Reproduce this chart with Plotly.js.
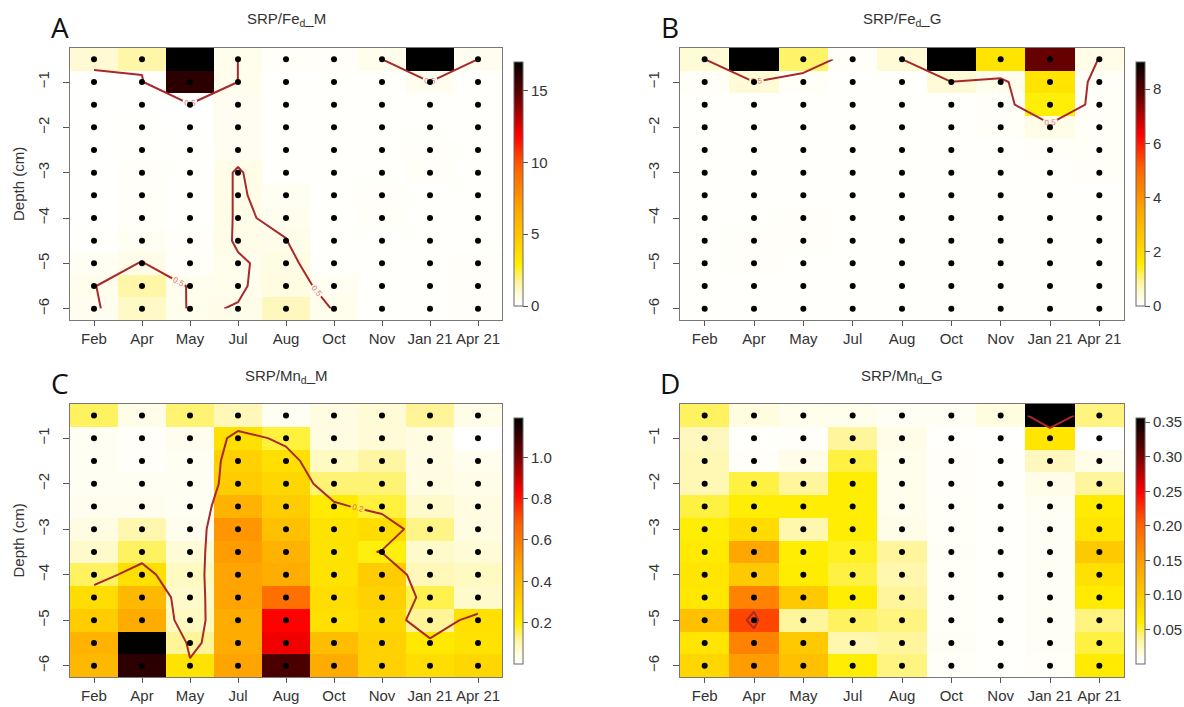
<!DOCTYPE html>
<html><head><meta charset="utf-8">
<script src="https://cdn.plot.ly/plotly-3.0.1.min.js"></script>
<style>body{margin:0;background:#fff}#chart{width:1184px;height:707px}</style>
</head><body><div id="chart"></div>
<script>
// ---- data ----
const months = ['Feb','Apr','May','Jul','Aug','Oct','Nov','Jan 21','Apr 21'];
const depths = [-0.5,-1,-1.5,-2,-2.5,-3,-3.5,-4,-4.5,-5,-5.5,-6];
const depthTicks = [-1,-2,-3,-4,-5,-6];

// rows = depths (top to bottom), columns = months
const srpFeM = [
  [0.9, 1.5, 17,  0.45, 0.2,  0.15, 0.45, 17,  0.4],
  [0.05,0.05,16,  0.45, 0.1,  0.1,  0.1,  0.4, 0.1],
  [0.05,0.05,0.05,0.35, 0.1,  0.1,  0.1,  0.1, 0.1],
  [0.05,0.1, 0.05,0.35, 0.1,  0.1,  0.1,  0.1, 0.1],
  [0.05,0.1, 0.1, 0.35, 0.1,  0.1,  0.1,  0.15,0.1],
  [0.05,0.15,0.1, 0.55, 0.1,  0.1,  0.1,  0.2, 0.1],
  [0.05,0.2, 0.1, 0.55, 0.3,  0.1,  0.15, 0.1, 0.1],
  [0.05,0.2, 0.1, 0.55, 0.42, 0.1,  0.2,  0.1, 0.1],
  [0.1, 0.3, 0.15,0.55, 0.51, 0.1,  0.1,  0.1, 0.1],
  [0.3, 0.52,0.2, 0.45, 0.65, 0.1,  0.1,  0.1, 0.15],
  [0.45,1.5, 0.41,0.45, 0.7,  0.34, 0.1,  0.1, 0.15],
  [0.4, 1.1, 0.45,0.52, 1.2,  0.45, 0.1,  0.1, 0.15]
];
const srpFeG = [
  [0.45,9,   1.1, 0.1, 0.45,9,   1.8, 7.8, 0.3],
  [0.1, 0.45,0.1, 0.05,0.05,0.45,0.25,1.8, 0.1],
  [0.05,0.05,0.05,0.05,0.05,0.05,0.1, 1.5, 0.1],
  [0.05,0.05,0.05,0.05,0.05,0.05,0.1, 0.3, 0.1],
  [0.05,0.05,0.05,0.05,0.05,0.05,0.05,0.1, 0.1],
  [0.05,0.05,0.05,0.05,0.05,0.05,0.05,0.05,0.1],
  [0.05,0.05,0.05,0.05,0.05,0.05,0.05,0.05,0.05],
  [0.05,0.05,0.08,0.05,0.05,0.05,0.05,0.05,0.05],
  [0.05,0.08,0.08,0.05,0.05,0.05,0.05,0.05,0.05],
  [0.05,0.08,0.05,0.05,0.05,0.05,0.05,0.05,0.05],
  [0.05,0.05,0.05,0.05,0.05,0.05,0.05,0.05,0.05],
  [0.05,0.05,0.05,0.05,0.05,0.05,0.05,0.05,0.05]
];
const srpMnM = [
  [0.15,0.04,0.14,0.09,0.02,0.05, 0.06, 0.12,0.04],
  [0.02,0.01,0.03,0.25,0.17,0.05, 0.06, 0.05,0.0],
  [0.02,0.01,0.02,0.3, 0.25,0.08, 0.11, 0.05,0.03],
  [0.02,0.02,0.02,0.32,0.28,0.14, 0.14, 0.05,0.04],
  [0.03,0.03,0.02,0.42,0.32,0.215,0.17, 0.07,0.05],
  [0.05,0.1, 0.03,0.52,0.37,0.24, 0.26, 0.13,0.05],
  [0.07,0.15,0.06,0.5, 0.42,0.24, 0.195,0.07,0.06],
  [0.15,0.25,0.08,0.48,0.44,0.24, 0.32, 0.09,0.08],
  [0.26,0.4, 0.07,0.48,0.63,0.26, 0.3,  0.16,0.07],
  [0.32,0.45,0.08,0.45,0.83,0.25, 0.28, 0.12,0.25],
  [0.42,1.19,0.12,0.45,0.85,0.38, 0.3,  0.22,0.24],
  [0.4, 1.12,0.24,0.48,1.07,0.45, 0.3,  0.26,0.28]
];
const srpMnG = [
  [0.045,0.015,0.01, 0.01, 0.005,0.005,0.015,0.356,0.04],
  [0.025,0.002,0.003,0.035,0.012,0.002,0.001,0.07, 0.0],
  [0.028,0.003,0.012,0.05, 0.01, 0.003,0.002,0.025,0.012],
  [0.028,0.05, 0.035,0.06, 0.01, 0.003,0.002,0.012,0.035],
  [0.05, 0.06, 0.06, 0.06, 0.01, 0.004,0.002,0.006,0.065],
  [0.06, 0.08, 0.03, 0.06, 0.012,0.004,0.002,0.005,0.07],
  [0.065,0.14, 0.06, 0.055,0.035,0.005,0.002,0.005,0.1],
  [0.07, 0.1,  0.062,0.05, 0.03, 0.004,0.002,0.005,0.075],
  [0.068,0.172,0.1,  0.06, 0.035,0.004,0.002,0.005,0.065],
  [0.11, 0.216,0.035,0.045,0.04, 0.004,0.002,0.005,0.04],
  [0.07, 0.172,0.1,  0.03, 0.035,0.005,0.002,0.005,0.05],
  [0.085,0.15, 0.11, 0.06, 0.04, 0.004,0.002,0.004,0.065]
];
const ticksFeM = [0,5,10,15];
const ticksFeG = [0,2,4,6,8];
const ticksMnM = [0.2,0.4,0.6,0.8,1.0];
const labelsMnM = ['0.2','0.4','0.6','0.8','1.0'];
const ticksMnG = [0.05,0.10,0.15,0.20,0.25,0.30,0.35];
const labelsMnG = ['0.05','0.10','0.15','0.20','0.25','0.30','0.35'];
const maxFeM = 17, maxFeG = 9, maxMnM = 1.19, maxMnG = 0.356;
const levelFe = 0.5, levelMn = 0.2;

// ---- styling / layout ----
const W = 1184, H = 707;
const heatScale = [
  [0,'#FFFFFF'],[0.04,'#FFFCE3'],[0.1,'#FFF59A'],[0.17,'#FFEE00'],[0.25,'#FFD200'],
  [0.4,'#FFA500'],[0.57,'#FF6000'],[0.7,'#FF0000'],[0.85,'#700000'],[1,'#000000']
];
const FONT = 'Liberation Sans, Arial, Helvetica, sans-serif';
const xIdx = months.map((m,i)=>i);

const panels = [
  {z:srpFeM, zmax:maxFeM, level:levelFe, tv:ticksFeM, tt:ticksFeM.map(String), title:'SRP/Fe<sub>d</sub>_M', letter:'A', box:[70,502,48,320], cb:[514,62,306], ytitle:true},
  {z:srpFeG, zmax:maxFeG, level:levelFe, tv:ticksFeG, tt:ticksFeG.map(String), title:'SRP/Fe<sub>d</sub>_G', letter:'B', box:[680,1124,48,320], cb:[1136,62,306], ytitle:false},
  {z:srpMnM, zmax:maxMnM, level:levelMn, tv:ticksMnM, tt:labelsMnM, title:'SRP/Mn<sub>d</sub>_M', letter:'C', box:[70,502,404,677], cb:[514,418,664], ytitle:true},
  {z:srpMnG, zmax:maxMnG, level:levelMn, tv:ticksMnG, tt:labelsMnG, title:'SRP/Mn<sub>d</sub>_G', letter:'D', box:[680,1124,404,677], cb:[1136,418,664], ytitle:false}
];

const dotX = [], dotY = [];
depths.forEach(d => xIdx.forEach(i => { dotX.push(i); dotY.push(d); }));

const traces = [];
const layout = {width:W, height:H, margin:{l:0,r:0,t:0,b:0}, paper_bgcolor:'#fff', plot_bgcolor:'#fff',
  showlegend:false, font:{family:FONT, color:'#333'}, annotations:[]};

panels.forEach((p, k) => {
  const n = k === 0 ? '' : String(k+1);
  const xa = 'x'+n, ya = 'y'+n;
  const [l, r, t, b] = p.box;
  const [cx, ct, cbm] = p.cb;
  traces.push({type:'heatmap', x:xIdx, y:depths, z:p.z, zmin:0, zmax:p.zmax, colorscale:heatScale,
    xaxis:xa, yaxis:ya, hoverinfo:'skip',
    colorbar:{x:cx/W, xanchor:'left', y:1-(ct+cbm)/2/H, yanchor:'middle', len:(cbm-ct)/H, lenmode:'fraction',
      thickness:9, thicknessmode:'pixels', xpad:0, ypad:0, outlinewidth:1, outlinecolor:'#666',
      ticks:'outside', ticklen:5, tickcolor:'#555', tickvals:p.tv, ticktext:p.tt,
      tickfont:{size:15, color:'#333', family:FONT}}});
  traces.push({type:'contour', x:xIdx, y:depths, z:p.z, xaxis:xa, yaxis:ya, autocontour:false,
    contours:{start:p.level, end:p.level, size:1, coloring:'none', showlabels:true,
      labelfont:{size:8, color:'#e06a6a', family:FONT}},
    line:{color:'#a8282c', width:2, smoothing:0}, showscale:false, hoverinfo:'skip'});
  traces.push({type:'scatter', mode:'markers', x:dotX, y:dotY, xaxis:xa, yaxis:ya,
    marker:{size:6, color:'#000'}, hoverinfo:'skip'});

  layout['xaxis'+n] = {domain:[l/W, r/W], range:[-0.5, 8.5], anchor:ya, tickvals:xIdx, ticktext:months,
    ticks:'outside', ticklen:5, tickcolor:'#555', showline:true, mirror:true, linecolor:'#777', linewidth:1,
    showgrid:false, zeroline:false, ticklabelstandoff:0, tickfont:{size:15, color:'#333'}};
  layout['yaxis'+n] = {domain:[1-b/H, 1-t/H], range:[-6.25, -0.25], anchor:xa, tickvals:depthTicks,
    ticks:'outside', ticklen:6, tickcolor:'#555', showline:true, mirror:true, linecolor:'#777', linewidth:1,
    showgrid:false, zeroline:false, tickangle:-90, ticklabelstandoff:8, tickfont:{size:15, color:'#333'}};

  layout.annotations.push({xref:'paper', yref:'paper', x:(l+r)/2/W, y:1-(t-28)/H, text:p.title,
    showarrow:false, xanchor:'center', yanchor:'middle', font:{size:15, color:'#333', family:FONT}});
  layout.annotations.push({xref:'paper', yref:'paper', x:(l-10)/W, y:1-(t-21)/H, text:p.letter,
    showarrow:false, xanchor:'center', yanchor:'middle', font:{size:28, color:'#111', family:'Open Sans, sans-serif'}});
  if (p.ytitle) {
    layout.annotations.push({xref:'paper', yref:'paper', x:18/W, y:1-(t+b)/2/H, text:'Depth (cm)', textangle:-90,
      showarrow:false, xanchor:'center', yanchor:'middle', font:{size:15, color:'#333', family:FONT}});
  }
});

Plotly.newPlot('chart', traces, layout, {staticPlot:true, displayModeBar:false});
</script></body></html>
